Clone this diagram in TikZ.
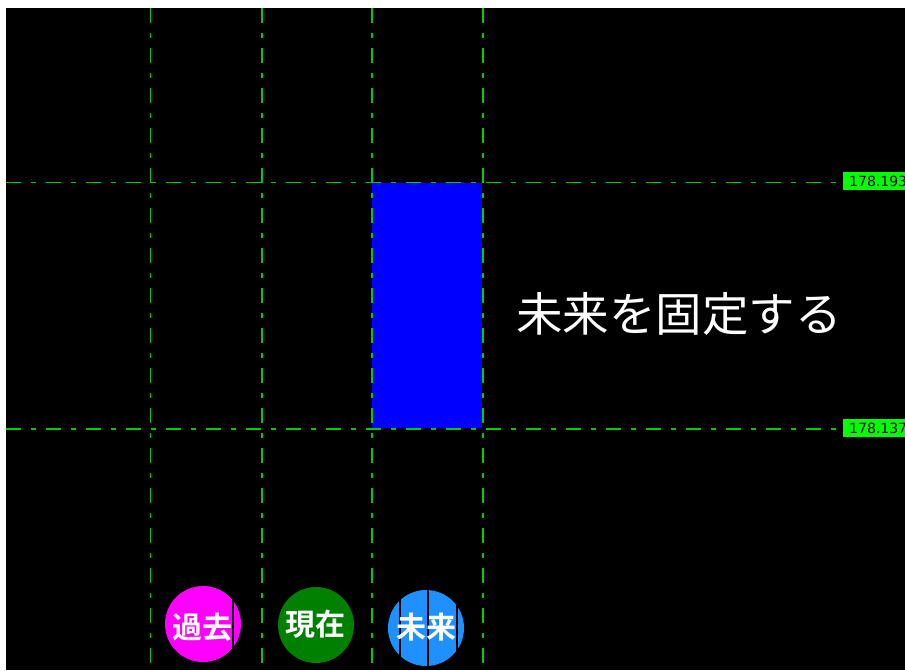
\documentclass[tikz,border=0pt]{standalone}
\usepackage{fontspec}
\newfontfamily\cjk{Noto Sans CJK JP}
\newfontfamily\cjkb{Noto Sans CJK JP Bold}
\newfontfamily\pricefont{DejaVu Sans}
\setmainfont{Liberation Sans}
\definecolor{gridgreen}{RGB}{0,205,0}
\definecolor{labelgreen}{RGB}{0,255,0}
\definecolor{barblue}{RGB}{0,0,255}
\definecolor{pastmag}{RGB}{255,0,255}
\definecolor{nowgreen}{RGB}{0,128,0}
\definecolor{futblue}{RGB}{30,144,255}
\begin{document}
\begin{tikzpicture}[x=1pt,y=-1pt,
  gridline/.style={gridgreen,line width=1.5pt,dash pattern=on 15pt off 10pt on 5pt off 10pt},
  pricelabel/.style={fill=labelgreen,inner xsep=0pt,inner ysep=0pt,anchor=west,minimum height=18pt,minimum width=80pt,text width=80pt,font=\pricefont\fontsize{14}{14}\selectfont,text=black,align=left},
  tag/.style={circle,minimum size=76pt,inner sep=0pt},
  tagtext/.style={text=white,font=\cjkb\fontsize{30}{30}\selectfont,inner sep=0pt}]
\useasboundingbox (0,0) rectangle (905,670);
\fill[white] (0,0) rectangle (905,670);
\clip (0,0) rectangle (905,670);
\fill[black] (6,8) rectangle (905,670);
% blue bar
\fill[barblue] (372,183) rectangle (482,428);
% grid lines
\foreach \x in {150.5,262,372,483} \draw[gridline] (\x,8) -- (\x,670);
\foreach \y in {182.5,429} \draw[gridline] (6,\y) -- (838,\y);
% price labels
\node[pricelabel] (p1) at (843,181) {\hspace*{6pt}178.193};
\node[pricelabel] (p2) at (843,428) {\hspace*{6pt}178.137};
% main text
\node[text=white,font=\cjk\fontsize{46.5}{46.5}\selectfont,anchor=west,inner sep=0pt] (title) at (516,314) {未来を固定する};
% circles
\node[tag,fill=pastmag] (past) at (203,624) {};
\begin{scope}
\clip (203,624) circle (38);
\draw[black,line width=1.6pt] (233,580) -- (233,670);
\end{scope}
\node[tagtext] (pastt) at (202,627) {過去};
\node[tag,fill=nowgreen] (now) at (316,625) {};
\node[tagtext] (nowt) at (315,624) {現在};
\node[tag,fill=futblue] (fut) at (426,628) {};
\begin{scope}
\clip (426,628) circle (39);
\foreach \x in {400,428,457} \draw[black,line width=1.6pt] (\x,580) -- (\x,670);
\end{scope}
\node[tagtext] (futt) at (426,627) {未来};
\end{tikzpicture}
\end{document}
